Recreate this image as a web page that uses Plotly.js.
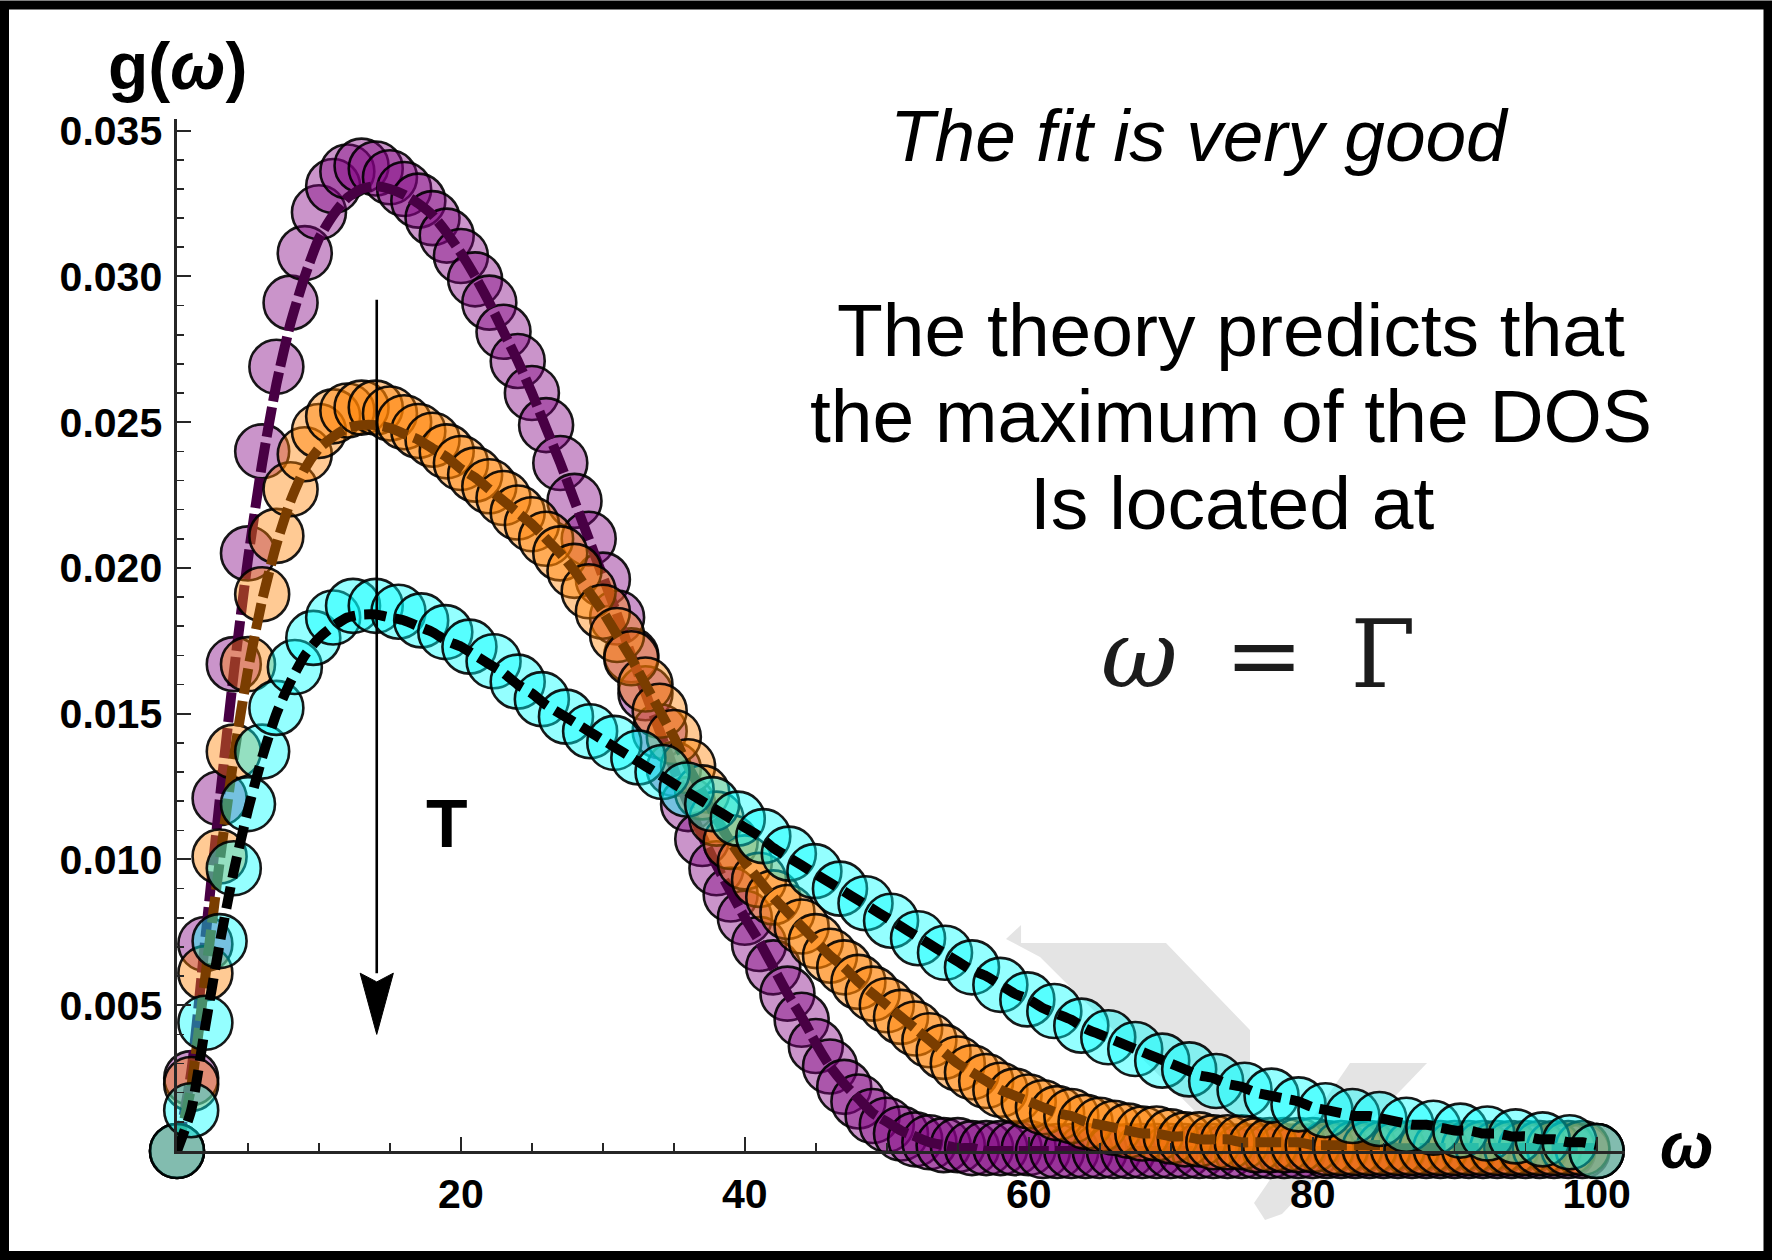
<!DOCTYPE html>
<html>
<head>
<meta charset="utf-8">
<script src="https://cdn.plot.ly/plotly-3.0.1.min.js"></script>
<style>
  html, body { margin: 0; padding: 0; background: #ffffff; }
  #chart { width: 1772px; height: 1260px; }
</style>
</head>
<body>
<div id="chart"></div>
<script>
// Frequency grid for the fitted curves and for the two lower-temperature data sets
const omega = [0,1,2,3,4,5,6,7,8,9,10,11,12,13,14,15,16,17,18,19,20,21,22,23,24,25,26,27,28,29,30,
  31,32,33,34,35,36,37,38,39,40,41,42,43,44,45,46,47,48,49,50,51,52,53,54,55,56,57,58,59,60,
  61,62,63,64,65,66,67,68,69,70,71,72,73,74,75,76,77,78,79,80,81,82,83,84,85,86,87,88,89,90,
  91,92,93,94,95,96,97,98,99,100];

// Lowest temperature: simulated DOS and its fit
const purplePts = [0,0.0025,0.0071,0.0121,0.0167,0.0205,0.0240,0.0269,0.0291,0.0308,
  0.0322,0.0331,0.0336,0.0338,0.0337,0.0334,0.0330,0.0326,0.0320,0.0314,
  0.0307,0.0299,0.0291,0.0281,0.0271,0.0260,0.0249,0.0236,0.0223,0.0210,
  0.0196,0.0183,0.0170,0.0157,0.0144,0.0131,0.0119,0.0107,0.0097,0.0088,
  0.0080,0.0071,0.0063,0.0054,0.0045,0.0036,0.0029,0.0022,0.0017,0.0012,
  0.0009,0.0006,0.0004,0.0003,0.0002,0.0002,0.0001,0.0001,0.0001,0.0001,
  0.0001,0,0,0,0,0,0,0,0,0,0,0,0,0,0,0,0,0,0,0,0,0,0,0,0,0,0,0,0,0,0,0,0,0,0,0,0,0,0,0,0];
const purpleFit = [0,0.0027,0.0073,0.0120,0.0164,0.0203,0.0236,0.0263,0.0284,0.0300,
  0.0313,0.0321,0.0327,0.0330,0.0331,0.0330,0.0328,0.0325,0.0321,0.0315,
  0.0308,0.0300,0.0291,0.0281,0.0271,0.0260,0.0248,0.0236,0.0223,0.0210,
  0.0197,0.0184,0.0170,0.0157,0.0144,0.0131,0.0119,0.0108,0.0098,0.0089,
  0.0080,0.0072,0.0063,0.0054,0.0046,0.0037,0.0029,0.0023,0.0018,0.0013,
  0.0010,0.0007,0.0005,0.0003,0.0002,0.0001,0.0001,0,0,0,
  0,0,0,0,0,0,0,0,0,0,0,0,0,0,0,0,0,0,0,0,0,0,0,0,0,0,0,0,0,0,0,0,0,0,0,0,0,0,0,0,0];

// Intermediate temperature
const orangePts = [0,0.0023,0.0061,0.0101,0.0137,0.0167,0.0191,0.0211,0.0227,0.0239,
  0.0247,0.0252,0.0254,0.0255,0.0255,0.0253,0.0250,0.0247,0.0244,0.0240,
  0.0236,0.0232,0.0228,0.0224,0.0219,0.0215,0.0210,0.0205,0.0199,0.0192,
  0.0185,0.0177,0.0169,0.0160,0.0151,0.0142,0.0132,0.0123,0.0114,0.0106,
  0.0099,0.0093,0.0087,0.0082,0.0077,0.0072,0.0067,0.0063,0.0058,0.0054,
  0.0050,0.0046,0.0042,0.0038,0.0034,0.0030,0.0027,0.0024,0.0021,0.0019,
  0.0017,0.0015,0.0013,0.0012,0.0010,0.0009,0.0008,0.0007,0.0006,0.0006,
  0.0005,0.0004,0.0004,0.0003,0.0003,0.0003,0.0002,0.0002,0.0002,0.0002,
  0.0002,0.0001,0.0001,0.0001,0.0001,0.0001,0.0001,0.0001,0.0001,0.0001,
  0.0001,0.0001,0.0001,0.0001,0.0001,0.0001,0.0001,0.0001,0.0001,0.0001,0];
const orangeFit = [0,0.0022,0.0060,0.0099,0.0135,0.0165,0.0189,0.0208,0.0223,0.0234,
  0.0241,0.0245,0.0248,0.0249,0.0249,0.0248,0.0246,0.0244,0.0241,0.0238,
  0.0234,0.0231,0.0227,0.0223,0.0219,0.0215,0.0210,0.0205,0.0199,0.0192,
  0.0185,0.0177,0.0169,0.0160,0.0151,0.0142,0.0132,0.0123,0.0114,0.0106,
  0.0099,0.0093,0.0087,0.0082,0.0077,0.0072,0.0067,0.0063,0.0058,0.0054,
  0.0050,0.0046,0.0042,0.0038,0.0034,0.0030,0.0027,0.0024,0.0021,0.0019,
  0.0017,0.0015,0.0013,0.0012,0.0010,0.0009,0.0008,0.0007,0.0006,0.0006,
  0.0005,0.0005,0.0004,0.0004,0.0004,0.0003,0.0003,0.0003,0.0003,0.0003,
  0.0002,0.0002,0.0002,0.0002,0.0002,0.0002,0.0001,0.0001,0.0001,0.0001,
  0.0001,0.0001,0.0001,0.0001,0.0001,0.0001,0.0001,0.0001,0.0001,0.0001,0.0001];

// Highest temperature: its data set is sampled on its own frequency grid
const cyanOmega = [0,1,2,3,4,5,6,7,8.3,9.6,11,12.4,14,15.6,17.2,18.9,20.6,22.3,
  24,25.7,27.4,29.1,30.8,32.5,34.2,35.9,37.7,39.5,41.3,43.1,44.9,46.7,48.5,50.3,
  52.2,54.1,56,58,59.9,61.8,63.7,65.6,67.5,69.4,71.3,73.2,75.2,77.1,79,80.9,
  82.8,84.7,86.6,88.5,90.4,92.3,94.3,96.2,98.1,100];
const cyanPts = [0,0.0014,0.0044,0.0072,0.0097,0.0119,0.0137,0.0152,0.0166,0.0176,
  0.0183,0.0187,0.0187,0.0185,0.0182,0.0178,0.0173,0.0168,0.0161,0.0155,
  0.0149,0.0144,0.0140,0.0135,0.0130,0.0124,0.0119,0.0114,0.0108,0.0102,
  0.0096,0.0090,0.0085,0.0079,0.0073,0.0068,0.0063,0.0057,0.0052,0.0048,
  0.0043,0.0039,0.0035,0.0031,0.0028,0.0024,0.0021,0.0019,0.0016,0.0014,
  0.0012,0.0011,0.0009,0.0008,0.0007,0.0006,0.0005,0.0004,0.0003,0];
const cyanFit = [0,0.0014,0.0043,0.0071,0.0096,0.0117,0.0135,0.0150,0.0161,0.0170,
  0.0176,0.0180,0.0183,0.0184,0.0184,0.0183,0.0182,0.0180,0.0178,0.0175,
  0.0173,0.0170,0.0167,0.0164,0.0160,0.0157,0.0153,0.0150,0.0147,0.0144,
  0.0141,0.0138,0.0135,0.0132,0.0129,0.0126,0.0123,0.0120,0.0117,0.0114,
  0.0111,0.0108,0.0104,0.0101,0.0098,0.0095,0.0092,0.0089,0.0086,0.0083,
  0.0080,0.0077,0.0074,0.0071,0.0068,0.0065,0.0062,0.0060,0.0057,0.0054,
  0.0052,0.0049,0.0047,0.0045,0.0042,0.0040,0.0038,0.0036,0.0034,0.0032,
  0.0030,0.0028,0.0026,0.0025,0.0023,0.0022,0.0020,0.0019,0.0018,0.0017,
  0.0015,0.0014,0.0013,0.0012,0.0012,0.0011,0.0010,0.0009,0.0009,0.0008,
  0.0007,0.0007,0.0006,0.0006,0.0005,0.0005,0.0004,0.0004,0.0003,0.0003,0.0002];

// Axis labelling
const xTickVals = [0, 20, 40, 60, 80, 100];
const xTickText = ['', '20', '40', '60', '80', '100'];
const yTickVals = [0, 0.005, 0.010, 0.015, 0.020, 0.025, 0.030, 0.035];
const yTickText = ['', '0.005', '0.010', '0.015', '0.020', '0.025', '0.030', '0.035'];

// Temperature arrow (frequency, DOS)
const arrowX = 14.07;
const arrowTop = 0.0292;
const arrowBack = 0.0061;
const arrowTip = 0.0040;
const arrowHalfWidth = 1.17;

// Page geometry
const W = 1772, H = 1260;
const M = { l: 177, r: 147, t: 119, b: 109 };
const plotW = W - M.l - M.r, plotH = H - M.t - M.b;
const px = v => (v - M.l) / plotW;          // page x -> paper x
const py = v => (H - M.b - v) / plotH;      // page y -> paper y
const polyPath = pts => pts.map((p, i) => (i ? 'L' : 'M') + px(p[0]).toFixed(4) + ',' + py(p[1]).toFixed(4)).join(' ') + ' Z';

const SANS = 'Liberation Sans, Arial, Helvetica, sans-serif';

function dots(x, y, fill) {
  return {
    x: x, y: y, type: 'scatter', mode: 'markers', cliponaxis: false,
    hoverinfo: 'skip', showlegend: false,
    marker: { symbol: 'circle', size: 54, color: fill,
              line: { color: 'rgba(0,0,0,0.9)', width: 2.6 } }
  };
}
function fit(x, y, color, dash) {
  return {
    x: x, y: y, type: 'scatter', mode: 'lines', cliponaxis: false,
    hoverinfo: 'skip', showlegend: false,
    line: { color: color, width: 10, dash: dash, shape: 'spline', smoothing: 0.6 }
  };
}

const traces = [
  dots(omega, purplePts, 'rgba(128,0,128,0.42)'),
  fit(omega, purpleFit, '#480044', '30px,6px'),
  dots(omega, orangePts, 'rgba(255,128,0,0.42)'),
  fit(omega, orangeFit, '#7a3d00', '26px,7px'),
  dots(cyanOmega, cyanPts, 'rgba(0,255,255,0.42)'),
  fit(omega, cyanFit, '#000000', '22px,9px')
];

const axisCommon = {
  showgrid: false, zeroline: false, showline: true,
  linecolor: '#262626', linewidth: 2.6,
  ticks: 'inside', ticklen: 14, tickwidth: 2, tickcolor: '#262626',
  tickmode: 'array',
  tickfont: { family: SANS, size: 41, color: '#000000', weight: 'bold' },
  fixedrange: true
};

const layout = {
  width: W, height: H,
  margin: M,
  paper_bgcolor: '#ffffff', plot_bgcolor: 'rgba(0,0,0,0)',
  showlegend: false,
  xaxis: Object.assign({}, axisCommon, {
    range: [0, 102], tickvals: xTickVals, ticktext: xTickText,
    ticklabelstandoff: 5,
    minor: { dtick: 5, tick0: 0, ticks: 'inside', ticklen: 8, tickwidth: 1.6, tickcolor: '#262626', showgrid: false }
  }),
  yaxis: Object.assign({}, axisCommon, {
    range: [0, 0.0354], tickvals: yTickVals, ticktext: yTickText,
    ticklabelstandoff: 4,
    minor: { dtick: 0.001, tick0: 0, ticks: 'inside', ticklen: 7, tickwidth: 1.6, tickcolor: '#262626', showgrid: false }
  }),
  shapes: [
    // faint grey emblem behind the curves
    { type: 'path', xref: 'paper', yref: 'paper', layer: 'below',
      path: polyPath([[1006, 939], [1021, 925], [1021, 943], [1166, 943], [1250, 1030],
                      [1250, 1142], [1226, 1142], [1040, 957]]),
      fillcolor: '#e4e4e4', line: { width: 0 } },
    { type: 'path', xref: 'paper', yref: 'paper', layer: 'below',
      path: polyPath([[1350, 1063], [1427, 1063], [1282, 1214], [1265, 1220], [1254, 1203]]),
      fillcolor: '#e4e4e4', line: { width: 0 } },
    // temperature arrow shaft and head
    { type: 'line', xref: 'x', yref: 'y', x0: arrowX, x1: arrowX, y0: arrowTop, y1: arrowBack,
      line: { color: '#000000', width: 2.6 } },
    { type: 'path', xref: 'x', yref: 'y',
      path: 'M' + (arrowX - arrowHalfWidth) + ',' + arrowBack +
            ' L' + arrowX + ',' + arrowTip +
            ' L' + (arrowX + arrowHalfWidth) + ',' + arrowBack +
            ' L' + arrowX + ',' + (arrowBack - 0.0003) + ' Z',
      fillcolor: '#000000', line: { color: '#000000', width: 1 } },
    // outer frame
    { type: 'rect', xref: 'paper', yref: 'paper',
      x0: px(4.5), x1: px(W - 4), y0: py(H - 4.5), y1: py(5),
      line: { color: '#000000', width: 9 }, fillcolor: 'rgba(0,0,0,0)' }
  ],
  annotations: [
    { text: '<b>g(<i>ω</i>)</b>', xref: 'paper', yref: 'paper', x: px(177), y: py(66),
      xanchor: 'center', yanchor: 'middle', showarrow: false,
      font: { family: SANS, size: 66, color: '#000000' } },
    { text: '<b><i>ω</i></b>', xref: 'paper', yref: 'paper', x: px(1686), y: py(1146),
      xanchor: 'center', yanchor: 'middle', showarrow: false,
      font: { family: SANS, size: 64, color: '#000000' } },
    { text: '<b>T</b>', xref: 'paper', yref: 'paper', x: px(447), y: py(823),
      xanchor: 'center', yanchor: 'middle', showarrow: false,
      font: { family: SANS, size: 68, color: '#000000' } },
    { text: '<i>The fit is very good</i>', xref: 'paper', yref: 'paper', x: px(1199), y: py(135),
      xanchor: 'center', yanchor: 'middle', showarrow: false,
      font: { family: SANS, size: 73, color: '#000000' } },
    { text: 'The theory predicts that', xref: 'paper', yref: 'paper', x: px(1231), y: py(330),
      xanchor: 'center', yanchor: 'middle', showarrow: false,
      font: { family: SANS, size: 75, color: '#000000' } },
    { text: 'the maximum of the DOS', xref: 'paper', yref: 'paper', x: px(1231), y: py(416),
      xanchor: 'center', yanchor: 'middle', showarrow: false,
      font: { family: SANS, size: 75, color: '#000000' } },
    { text: 'Is located at', xref: 'paper', yref: 'paper', x: px(1232), y: py(503),
      xanchor: 'center', yanchor: 'middle', showarrow: false,
      font: { family: SANS, size: 75, color: '#000000' } },
    { text: '<i>ω</i>\u2002=\u2002Γ', xref: 'paper', yref: 'paper', x: px(1258), y: py(654),
      xanchor: 'center', yanchor: 'middle', showarrow: false,
      font: { family: 'DejaVu Serif, serif', size: 94, color: '#1c1c1c' } }
  ]
};

Plotly.newPlot('chart', traces, layout, { displayModeBar: false, staticPlot: true });
</script>
</body>
</html>
